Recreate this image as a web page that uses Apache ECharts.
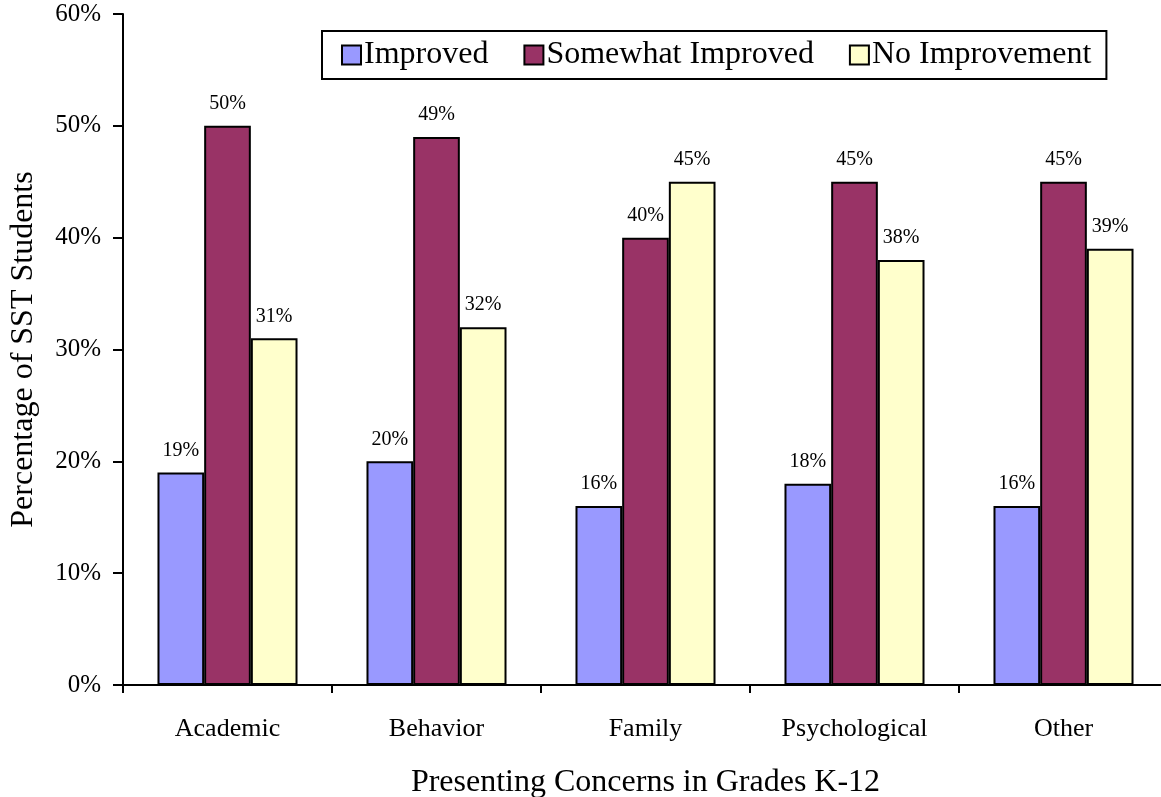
<!DOCTYPE html>
<html>
<head>
<meta charset="utf-8">
<script src="https://cdn.jsdelivr.net/npm/echarts@6/dist/echarts.min.js"></script>
<style>
  html, body { margin: 0; padding: 0; background: #fff; }
  #chart { width: 1161px; height: 797px; }
</style>
</head>
<body>
<div id="chart"></div>
<script>
// data
const categories = ['Academic', 'Behavior', 'Family', 'Psychological', 'Other'];
const improved = [19, 20, 16, 18, 16];
const somewhatImproved = [50, 49, 40, 45, 45];
const noImprovement = [31, 32, 45, 38, 39];
const seriesNames = ['Improved', 'Somewhat Improved', 'No Improvement'];
const seriesColors = ['#9999ff', '#993366', '#ffffcc'];

const font = 'Liberation Serif, Times New Roman, serif';

function makeBar(name, data, color) {
  return {
    name: name,
    type: 'bar',
    data: data,
    barGap: '0%',
    barCategoryGap: '33%',
    itemStyle: {
      color: color,
      borderColor: '#000',
      borderWidth: 2
    },
    label: {
      show: true,
      position: 'top',
      distance: 12,
      formatter: '{c}%',
      color: '#000',
      fontFamily: font,
      fontSize: 20
    },
    emphasis: { disabled: true }
  };
}

const chart = echarts.init(document.getElementById('chart'));
chart.setOption({
  animation: false,
  backgroundColor: '#fff',
  textStyle: { fontFamily: font },
  grid: {
    left: 123,
    top: 14,
    right: -7,
    bottom: 112,
    containLabel: false,
    outerBoundsMode: 'none'
  },
  legend: {
    data: seriesNames,
    left: 322,
    top: 31,
    orient: 'horizontal',
    padding: [8, 15, 8, 19],
    itemGap: 35,
    itemWidth: 19,
    itemHeight: 19,
    borderColor: '#000',
    borderWidth: 2,
    icon: 'rect',
    itemStyle: { borderColor: '#000', borderWidth: 2 },
    textStyle: { fontFamily: font, fontSize: 32, color: '#000', padding: [0, 0, 0, -2] }
  },
  xAxis: {
    type: 'category',
    data: categories,
    name: 'Presenting Concerns in Grades K-12',
    nameLocation: 'middle',
    nameGap: 82,
    nameTextStyle: { fontFamily: font, fontSize: 32, color: '#000' },
    axisLine: { lineStyle: { color: '#000', width: 2 } },
    axisTick: { show: true, length: 8, lineStyle: { color: '#000', width: 2 } },
    axisLabel: { margin: 31, fontFamily: font, fontSize: 26, color: '#000' }
  },
  yAxis: {
    type: 'value',
    min: 0,
    max: 60,
    interval: 10,
    name: 'Percentage of SST Students',
    nameLocation: 'middle',
    nameGap: 83,
    nameTextStyle: { fontFamily: font, fontSize: 32, color: '#000' },
    axisLine: { show: true, lineStyle: { color: '#000', width: 2 } },
    axisTick: { show: true, length: 10, lineStyle: { color: '#000', width: 2 } },
    axisLabel: { margin: 22, formatter: '{value}%', fontFamily: font, fontSize: 25, color: '#000' },
    splitLine: { show: false }
  },
  series: [
    makeBar(seriesNames[0], improved, seriesColors[0]),
    makeBar(seriesNames[1], somewhatImproved, seriesColors[1]),
    makeBar(seriesNames[2], noImprovement, seriesColors[2])
  ]
});

window.addEventListener('resize', () => {
  chart.resize();
});
</script>
</body>
</html>
